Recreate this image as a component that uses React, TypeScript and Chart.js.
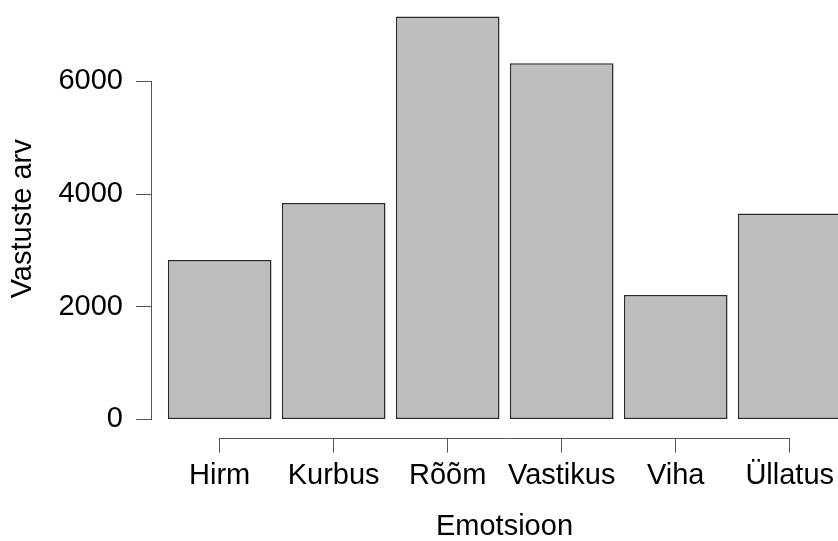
import React, { useEffect, useRef } from "react";
import { Chart, registerables } from "chart.js";

Chart.register(...registerables);

const categories: string[] = ["Hirm", "Kurbus", "Rõõm", "Vastikus", "Viha", "Üllatus"];
const counts: number[] = [2828, 3840, 7154, 6320, 2207, 3657];
const yTickValues: number[] = [0, 2000, 4000, 6000];
const xTitle = "Emotsioon";
const yTitle = "Vastuste arv";

const FONT = "'Liberation Sans', Arial, Helvetica, sans-serif";
const AXIS_COLOR = "#555555";

const axisLinesPlugin = {
  id: "rAxisLines",
  afterDraw(chart: any) {
    const { ctx } = chart;
    const xs = chart.scales.x;
    const ys = chart.scales.y;
    ctx.save();
    ctx.strokeStyle = AXIS_COLOR;
    ctx.lineWidth = 1;
    // y axis line from first to last tick
    const yx = Math.round(ys.right) - 0.5;
    ctx.beginPath();
    ctx.moveTo(yx, ys.getPixelForValue(yTickValues[0]));
    ctx.lineTo(yx, ys.getPixelForValue(yTickValues[yTickValues.length - 1]));
    ctx.stroke();
    // x axis line from first to last category
    const xy = Math.round(xs.top) + 0.5;
    ctx.beginPath();
    ctx.moveTo(xs.getPixelForValue(0), xy);
    ctx.lineTo(xs.getPixelForValue(categories.length - 1), xy);
    ctx.stroke();
    ctx.restore();
  },
};

export default function App() {
  const canvasRef = useRef<HTMLCanvasElement | null>(null);

  useEffect(() => {
    if (!canvasRef.current) return;
    const chart = new Chart(canvasRef.current, {
      type: "bar",
      data: {
        datasets: [
          {
            data: counts.map((v, i) => ({ x: i, y: v })),
            backgroundColor: "#BEBEBE",
            borderColor: "#2a2a2a",
            borderWidth: 1.5,
            borderSkipped: false,
            barPercentage: 0.909,
            categoryPercentage: 1,
          },
        ],
      },
      options: {
        animation: false,
        responsive: false,
        maintainAspectRatio: false,
        layout: { padding: 0 },
        plugins: {
          legend: { display: false },
          tooltip: { enabled: false },
          title: { display: false },
        },
        scales: {
          x: {
            type: "linear",
            min: -0.5935,
            max: 5.59,
            offset: false,
            border: { display: false },
            grid: {
              offset: false,
              drawOnChartArea: false,
              drawTicks: true,
              tickLength: 15,
              color: AXIS_COLOR,
              lineWidth: 1,
            },
            afterBuildTicks: (axis: any) => {
              axis.ticks = categories.map((_, i) => ({ value: i }));
            },
            afterFit: (axis: any) => {
              axis.height = 103.3;
              axis.paddingLeft = 0;
              axis.paddingRight = 0;
            },
            ticks: {
              autoSkip: false,
              maxRotation: 0,
              minRotation: 0,
              padding: 6,
              color: "#000000",
              font: { family: FONT, size: 29 },
              callback: (value: any) => categories[Math.round(Number(value))] ?? "",
            },
            title: {
              display: true,
              text: xTitle,
              color: "#000000",
              font: { family: FONT, size: 29, lineHeight: 1 },
              padding: { top: 0, bottom: 0 },
            },
          },
          y: {
            type: "linear",
            min: -325,
            max: 7445,
            border: { display: false },
            grid: {
              drawOnChartArea: false,
              drawTicks: true,
              tickLength: 16,
              color: AXIS_COLOR,
              lineWidth: 1,
            },
            afterBuildTicks: (axis: any) => {
              axis.ticks = yTickValues.map((v) => ({ value: v }));
            },
            afterFit: (axis: any) => {
              axis.width = 152;
              axis.paddingTop = 0;
              axis.paddingBottom = 0;
            },
            ticks: {
              padding: 13,
              color: "#000000",
              font: { family: FONT, size: 29 },
              callback: (value: any) => String(value),
            },
            title: {
              display: true,
              text: yTitle,
              color: "#000000",
              font: { family: FONT, size: 29, lineHeight: 1 },
              padding: { top: 8.5, bottom: 0 },
            },
          },
        },
      },
      plugins: [axisLinesPlugin],
    });
    return () => chart.destroy();
  }, []);

  return (
    <div
      style={{
        position: "fixed",
        left: 0,
        top: 0,
        width: 838,
        height: 541,
        overflow: "hidden",
        background: "#ffffff",
      }}
    >
      <canvas ref={canvasRef} width={857} height={541} style={{ display: "block" }} />
    </div>
  );
}
